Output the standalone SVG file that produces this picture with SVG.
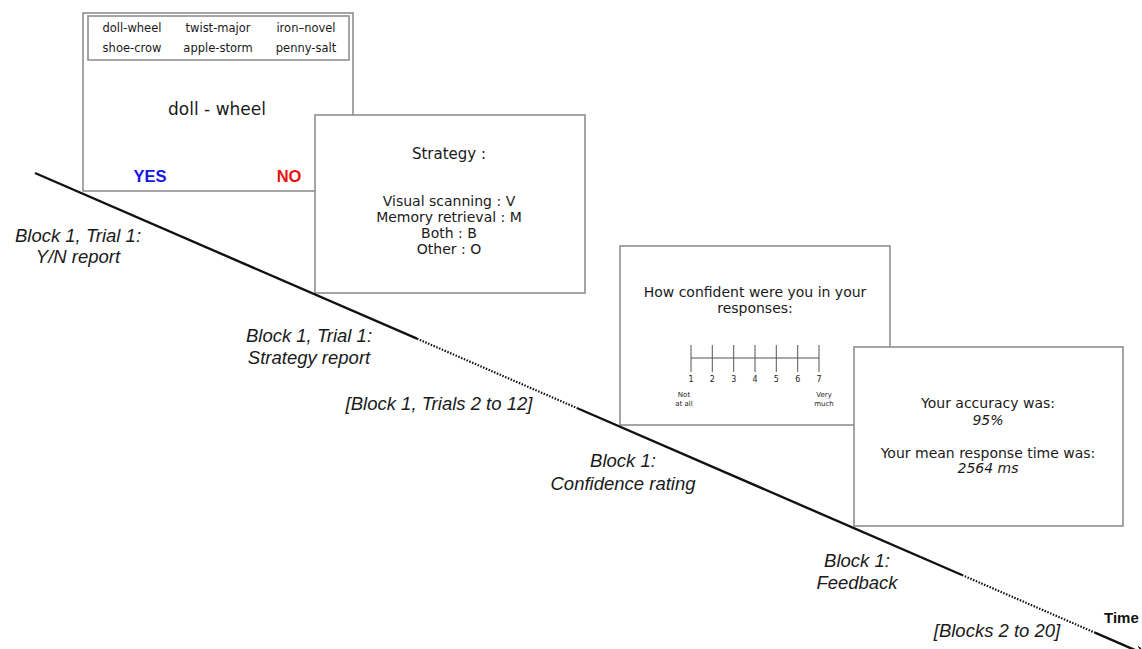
<svg xmlns="http://www.w3.org/2000/svg" width="1142" height="649" viewBox="0 0 1142 649">
<style>
.scr{fill:#fff;stroke:#8f8f8f;stroke-width:1.6}
.t{font-family:"DejaVu Sans",Verdana,sans-serif;fill:#1a1a1a;text-anchor:middle}
.ti{font-family:"DejaVu Sans",Verdana,sans-serif;font-style:italic;fill:#1a1a1a;text-anchor:middle}
.lab{font-family:"Liberation Sans",Arial,sans-serif;font-style:italic;font-size:18.5px;fill:#1a1a1a;text-anchor:middle}
.ln{stroke:#111;stroke-width:2.4;fill:none}
.dot{stroke:#111;stroke-width:2.2;fill:none;stroke-dasharray:1.5 1.5}
.tick{stroke:#555;stroke-width:1}
</style>
<defs>
<marker id="arr" markerWidth="10" markerHeight="10" refX="7" refY="5" orient="auto" markerUnits="userSpaceOnUse">
<path d="M0,0 L8,5 L0,10" fill="none" stroke="#111" stroke-width="1.6"/>
</marker>
</defs>
<g id="screen-yn">
<rect class="scr" x="83" y="13" width="270" height="178"/>
<rect class="scr" x="88" y="16" width="261" height="44"/>
<text class="t" font-size="11.5" x="132" y="32">doll-wheel</text>
<text class="t" font-size="11.5" x="218" y="32">twist-major</text>
<text class="t" font-size="11.5" x="306" y="32">iron–novel</text>
<text class="t" font-size="11.5" x="132" y="52">shoe-crow</text>
<text class="t" font-size="11.5" x="218" y="52">apple-storm</text>
<text class="t" font-size="11.5" x="306" y="52">penny-salt</text>
<text class="t" font-size="17" x="217" y="115">doll - wheel</text>
<text x="150" y="182" font-family="Liberation Sans,Arial,sans-serif" font-weight="bold" font-size="16.5" fill="#1414e6" text-anchor="middle">YES</text>
<text x="289" y="182" font-family="Liberation Sans,Arial,sans-serif" font-weight="bold" font-size="16.5" fill="#e61414" text-anchor="middle">NO</text>
</g>
<g id="screen-strategy">
<rect class="scr" x="315" y="115" width="270" height="178"/>
<text class="t" font-size="15" x="449" y="159">Strategy :</text>
<text class="t" font-size="14" x="449" y="206">Visual scanning : V</text>
<text class="t" font-size="14" x="449" y="222">Memory retrieval : M</text>
<text class="t" font-size="14" x="449" y="238">Both : B</text>
<text class="t" font-size="14" x="449" y="254">Other : O</text>
</g>
<g id="screen-confidence">
<rect class="scr" x="620" y="246" width="270" height="179"/>
<text class="t" font-size="14" x="755" y="297">How confident were you in your</text>
<text class="t" font-size="14" x="755" y="313">responses:</text>
<line class="tick" x1="691" y1="358" x2="819" y2="358"/>
<g class="tick">
<line x1="691" y1="345" x2="691" y2="372"/>
<line x1="712.3" y1="345" x2="712.3" y2="372"/>
<line x1="733.7" y1="345" x2="733.7" y2="372"/>
<line x1="755" y1="345" x2="755" y2="372"/>
<line x1="776.3" y1="345" x2="776.3" y2="372"/>
<line x1="797.7" y1="345" x2="797.7" y2="372"/>
<line x1="819" y1="345" x2="819" y2="372"/>
</g>
<g class="t" font-size="8">
<text x="691" y="382">1</text>
<text x="712.3" y="382">2</text>
<text x="733.7" y="382">3</text>
<text x="755" y="382">4</text>
<text x="776.3" y="382">5</text>
<text x="797.7" y="382">6</text>
<text x="819" y="382">7</text>
</g>
<g class="t" font-size="7">
<text x="684" y="397">Not</text>
<text x="684" y="406">at all</text>
<text x="824" y="397">Very</text>
<text x="824" y="406">much</text>
</g>
</g>
<g id="screen-feedback">
<rect class="scr" x="854" y="347" width="269" height="179"/>
<text class="t" font-size="14" x="988" y="408">Your accuracy was:</text>
<text class="ti" font-size="14" x="988" y="425">95%</text>
<text class="t" font-size="14" x="988" y="458">Your mean response time was:</text>
<text class="ti" font-size="14" x="988" y="473">2564 ms</text>
</g>
<g id="connectors">
<line class="ln" x1="35" y1="173" x2="417" y2="338.7"/>
<line class="dot" x1="417" y1="338.7" x2="578" y2="408.5"/>
<line class="ln" x1="578" y1="408.5" x2="962" y2="575"/>
<line class="dot" x1="962" y1="575" x2="1095" y2="632.7"/>
<line class="ln" x1="1095" y1="632.7" x2="1143" y2="653.5" marker-end="url(#arr)"/>
</g>
<g id="labels">
<text class="lab" x="78" y="242">Block 1, Trial 1:</text>
<text class="lab" x="78" y="263">Y/N report</text>
<text class="lab" x="309" y="342">Block 1, Trial 1:</text>
<text class="lab" x="309" y="364">Strategy report</text>
<text class="lab" x="439" y="410">[Block 1, Trials 2 to 12]</text>
<text class="lab" x="623" y="467">Block 1:</text>
<text class="lab" x="623" y="490">Confidence rating</text>
<text class="lab" x="857" y="567">Block 1:</text>
<text class="lab" x="857" y="589">Feedback</text>
<text class="lab" x="997" y="637">[Blocks 2 to 20]</text>
<text x="1104" y="623" font-family="Liberation Sans,Arial,sans-serif" font-weight="bold" font-size="15" fill="#111">Time</text>
</g>
</svg>
